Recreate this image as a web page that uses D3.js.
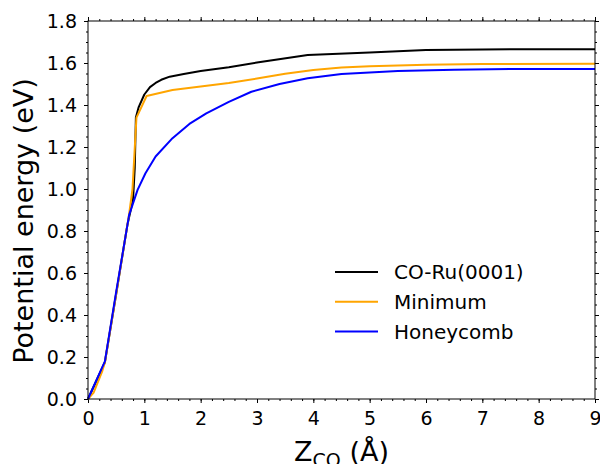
<!DOCTYPE html>
<html>
<head>
<meta charset="utf-8">
<script src="https://cdn.jsdelivr.net/npm/d3@7"></script>
<style>
body { margin:0; background:#fff; }
text { font-family: "DejaVu Sans", sans-serif; }
</style>
</head>
<body>
<svg id="chart" width="600" height="464"></svg>
<script>
// series data
var xRu   = [0, 0.3, 0.5, 0.7, 0.8, 0.83, 0.85, 0.9, 1.0, 1.1, 1.2, 1.3, 1.45, 1.7, 2.0, 2.5, 3.0, 3.9, 5.0, 6.0, 7.0, 8.0, 9.0];
var yRu   = [0, 0.175, 0.5, 0.83, 0.95, 1.1, 1.34, 1.39, 1.45, 1.485, 1.505, 1.52, 1.535, 1.548, 1.562, 1.58, 1.602, 1.638, 1.65, 1.662, 1.664, 1.666, 1.666];
var xMin  = [0, 0.1, 0.25, 0.3, 0.5, 0.73, 0.79, 0.86, 1.04, 1.5, 2.0, 2.5, 3.0, 3.5, 4.0, 4.5, 5.0, 6.0, 7.0, 9.0];
var yMin  = [0, 0.03, 0.13, 0.175, 0.5, 0.88, 1.0, 1.34, 1.443, 1.471, 1.488, 1.505, 1.526, 1.549, 1.567, 1.578, 1.585, 1.592, 1.595, 1.597];
var xHon  = [0, 0.3, 0.5, 0.73, 0.88, 1.02, 1.2, 1.5, 1.8, 2.1, 2.5, 2.9, 3.4, 3.9, 4.5, 5.5, 6.5, 7.5, 9.0];
var yHon  = [0, 0.179, 0.51, 0.877, 0.996, 1.075, 1.155, 1.242, 1.31, 1.36, 1.415, 1.463, 1.5, 1.527, 1.548, 1.562, 1.568, 1.571, 1.572];

var seriesNames  = ["CO-Ru(0001)", "Minimum", "Honeycomb"];
var seriesColors = ["#000000", "#FFA500", "#0000FF"];

var xTicks = [0,1,2,3,4,5,6,7,8,9];
var yTicks = [0,0.2,0.4,0.6,0.8,1.0,1.2,1.4,1.6,1.8];

var W=600, H=464;
var m={left:88, right:5, top:21, bottom:65};

var svg=d3.select("#chart");
var x=d3.scaleLinear().domain([0,9]).range([m.left, W-m.right]);
var y=d3.scaleLinear().domain([0,1.8]).range([H-m.bottom, m.top]);

var xMinor=d3.range(0,9.001,0.2).map(function(d){return +d.toFixed(2);});
var yMinor=d3.range(0,1.8001,0.05).map(function(d){return +d.toFixed(3);});

function styleAxis(g, fs) {
  g.select(".domain").remove();
  g.selectAll("line").attr("stroke","#000").attr("stroke-width",1);
  g.selectAll("text").attr("font-size",fs).attr("fill","#000");
}

// minor ticks on all four sides
svg.append("g").attr("transform","translate(0,"+y(0)+")")
   .call(d3.axisBottom(x).tickValues(xMinor).tickSize(2).tickFormat(""))
   .call(styleAxis,0);
svg.append("g").attr("transform","translate(0,"+y(1.8)+")")
   .call(d3.axisTop(x).tickValues(xMinor).tickSize(2).tickFormat(""))
   .call(styleAxis,0);
svg.append("g").attr("transform","translate("+x(0)+",0)")
   .call(d3.axisLeft(y).tickValues(yMinor).tickSize(2).tickFormat(""))
   .call(styleAxis,0);
svg.append("g").attr("transform","translate("+x(9)+",0)")
   .call(d3.axisRight(y).tickValues(yMinor).tickSize(2).tickFormat(""))
   .call(styleAxis,0);

// major ticks
svg.append("g").attr("transform","translate(0,"+y(0)+")")
   .call(d3.axisBottom(x).tickValues(xTicks).tickSize(4).tickPadding(9).tickFormat(d3.format("d")))
   .call(styleAxis,19);
svg.append("g").attr("transform","translate(0,"+y(1.8)+")")
   .call(d3.axisTop(x).tickValues(xTicks).tickSize(4).tickFormat(""))
   .call(styleAxis,0);
svg.append("g").attr("transform","translate("+x(0)+",0)")
   .call(d3.axisLeft(y).tickValues(yTicks).tickSize(4).tickPadding(7).tickFormat(d3.format(".1f")))
   .call(styleAxis,19);
svg.append("g").attr("transform","translate("+x(9)+",0)")
   .call(d3.axisRight(y).tickValues(yTicks).tickSize(4).tickFormat(""))
   .call(styleAxis,0);

// lines
var xs=[xRu,xMin,xHon], ys=[yRu,yMin,yHon];
var line=d3.line().x(function(d){return x(d[0]);}).y(function(d){return y(d[1]);});
for(var i=0;i<3;i++) {
  var pts=xs[i].map(function(v,j){return [v, ys[i][j]];});
  svg.append("path")
     .attr("d", line(pts))
     .attr("fill","none")
     .attr("stroke", seriesColors[i])
     .attr("stroke-width",2)
     .attr("stroke-linejoin","round");
}

// frame
svg.append("rect")
   .attr("x",x(0)).attr("y",y(1.8))
   .attr("width",x(9)-x(0)).attr("height",y(0)-y(1.8))
   .attr("fill","none").attr("stroke","#000").attr("stroke-width",1);

// legend
var leg=svg.append("g");
for(var k=0;k<3;k++) {
  var ly=272+k*29.7;
  leg.append("line").attr("x1",335).attr("x2",378).attr("y1",ly).attr("y2",ly)
     .attr("stroke",seriesColors[k]).attr("stroke-width",2);
  leg.append("text").attr("x",394).attr("y",ly).attr("dy","0.36em")
     .attr("font-size",20).text(seriesNames[k]);
}

// axis labels
svg.append("text")
   .attr("transform","translate(33,221) rotate(-90)")
   .attr("text-anchor","middle").attr("font-size",27)
   .text("Potential energy (eV)");

var xl=svg.append("text").attr("x",(x(0)+x(9))/2).attr("y",461)
   .attr("text-anchor","middle").attr("font-size",27);
xl.append("tspan").text("Z");
xl.append("tspan").attr("font-size",19).attr("dy",6).text("CO");
xl.append("tspan").attr("dy",-6).text(" (Å)");
</script>
</body>
</html>
